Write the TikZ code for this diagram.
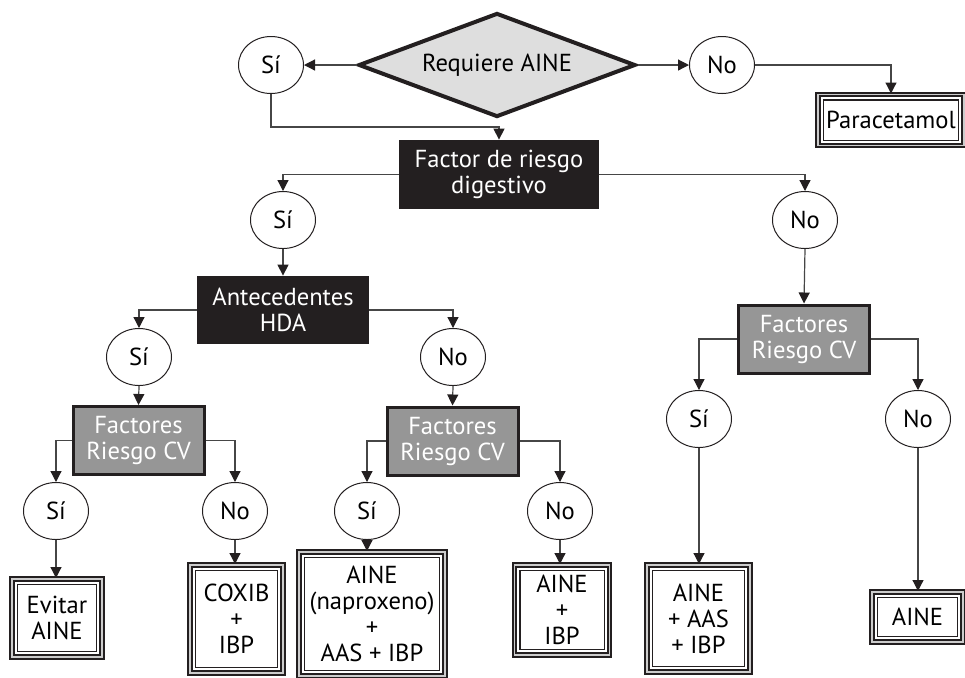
\documentclass[tikz,border=0pt]{standalone}
\usepackage{fontspec}
\setmainfont{PT Sans}
\usetikzlibrary{shapes.geometric,arrows.meta}
\definecolor{ink}{RGB}{35,31,32}
\definecolor{midgray}{RGB}{150,150,150}
\definecolor{lightgray}{RGB}{222,222,222}
\definecolor{linegray}{RGB}{70,70,70}

\tikzset{
  decision/.style={draw=ink, line width=2pt, fill=lightgray, diamond,
    aspect=2.66, minimum width=138.5pt, minimum height=52pt, inner sep=0pt},
  answer/.style={draw=ink, line width=0.5pt, ellipse,
    minimum width=32.5pt, minimum height=28.5pt, inner sep=0pt},
  darkbox/.style={fill=ink, text=white, align=center, inner sep=0pt},
  cvbox/.style={draw=ink, line width=1.5pt, fill=midgray, text=white,
    align=center, inner sep=0pt,
    minimum width=65.5pt, minimum height=34pt},
  endbox/.style={draw=ink, line width=1pt, double=gray!40,
    double distance=0.6pt, fill=white, align=center, inner sep=0pt,
    path picture={\draw[ink, line width=0.6pt]
      ([shift={(2.7pt,2.7pt)}]path picture bounding box.south west) rectangle
      ([shift={(-2.7pt,-2.7pt)}]path picture bounding box.north east);}},
  conn/.style={draw=linegray, line width=0.6pt,
    -{Triangle[length=5.5pt,width=5.5pt,color=ink]}}
}

\begin{document}
\begin{tikzpicture}[x=0.5pt, y=-0.5pt, font=\fontsize{12.3}{13}\selectfont]
\useasboundingbox (0,0) rectangle (965,677);

% ----------------------
% Top decision
% ----------------------
\node[decision] (req) at (497,65) {Requiere AINE};
\node[answer] (si0) at (271,65) {Sí};
\node[answer] (no0) at (722,65) {No};
\node[endbox, minimum width=73pt, minimum height=25.5pt] (para) at (891,120)
  {Paracetamol};

% ----------------------
% Digestive risk
% ----------------------
\node[darkbox, minimum width=100pt, minimum height=34.5pt] (fact) at (499,174.5)
  {Factor de riesgo\\digestivo};
\node[answer] (si1) at (283,220) {Sí};
\node[answer] (no1) at (805,220) {No};

\node[darkbox, minimum width=86pt, minimum height=34pt] (ante) at (283,310)
  {Antecedentes\\HDA};
\node[answer] (si2) at (139,357) {Sí};
\node[answer] (no2) at (453,357) {No};

% ----------------------
% CV risk boxes
% ----------------------
\node[cvbox] (fcvA) at (138.5,440.5) {Factores\\Riesgo CV};
\node[cvbox] (fcvB) at (452.5,441) {Factores\\Riesgo CV};
\node[cvbox] (fcvC) at (804,339) {Factores\\Riesgo CV};

\node[answer] (si3) at (56,511) {Sí};
\node[answer] (no3) at (235,511) {No};
\node[answer] (si4) at (367,511) {Sí};
\node[answer] (no4) at (560,511) {No};
\node[answer] (si5) at (699,419) {Sí};
\node[answer] (no5) at (918,419) {No};

% ----------------------
% Treatments
% ----------------------
\node[endbox, minimum width=45pt, minimum height=39pt] (evitar) at (57,618)
  {Evitar\\AINE};
\node[endbox, minimum width=46.5pt, minimum height=54pt] (coxib) at (236.5,619)
  {COXIB\\+\\IBP};
\node[endbox, minimum width=73pt, minimum height=62pt] (naprox) at (372,614)
  {AINE\\(naproxeno)\\+\\AAS + IBP};
\node[endbox, minimum width=47.5pt, minimum height=45pt] (aibp) at (562,610)
  {AINE\\+\\IBP};
\node[endbox, minimum width=51.5pt, minimum height=53.5pt] (aaas) at (698.5,618.5)
  {AINE\\+ AAS\\+ IBP};
\node[endbox, minimum width=45.5pt, minimum height=25pt] (aine) at (917.5,617)
  {AINE};

% ----------------------
% Connectors
% ----------------------
\draw[conn] (req.west) -- (si0.east);
\draw[conn] (req.east) -- (no0.west);
\draw[conn] (no0.east) -| (para.north);
\draw[conn] (si0.south) -- ++(0,33) -| (fact.north);

\draw[conn] (fact.west) -| (si1.north);
\draw[conn] (fact.east) -| (no1.north);
\draw[conn] (si1.south) -- (ante.north);
\draw[conn] (no1.south) -- (fcvC.north);

\draw[conn] (ante.west) -| (si2.north);
\draw[conn] (ante.east) -| (no2.north);
\draw[conn] (si2.south) -- (fcvA.north);
\draw[conn] (no2.south) -- (fcvB.north);

\draw[conn] (fcvA.west) -| (si3.north);
\draw[conn] (fcvA.east) -| (no3.north);
\draw[conn] (fcvB.west) -| (si4.north);
\draw[conn] (fcvB.east) -| (no4.north);
\draw[conn] (fcvC.west) -| (si5.north);
\draw[conn] (fcvC.east) -| (no5.north);

\draw[conn] (si3.south) -- (si3.south |- evitar.north);
\draw[conn] (no3.south) -- (no3.south |- coxib.north);
\draw[conn] (si4.south) -- (si4.south |- naprox.north);
\draw[conn] (no4.south) -- (no4.south |- aibp.north);
\draw[conn] (si5.south) -- (si5.south |- aaas.north);
\draw[conn] (no5.south) -- (no5.south |- aine.north);

\end{tikzpicture}
\end{document}
